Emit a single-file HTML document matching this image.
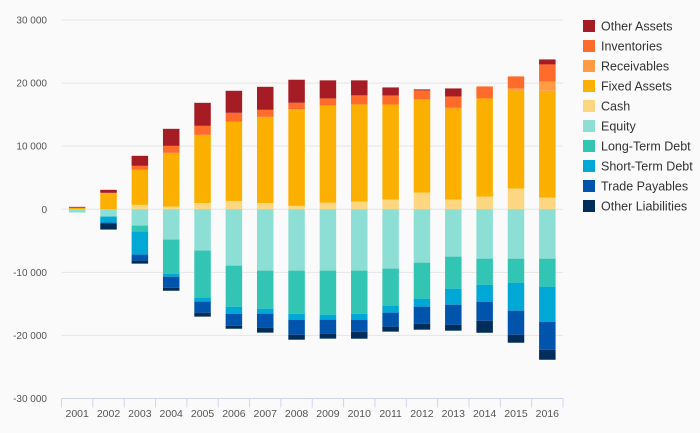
<!DOCTYPE html>
<html><head><meta charset="utf-8"><style>
html,body{margin:0;padding:0;background:#fafafa;}
svg{display:block;font-family:"Liberation Sans",sans-serif;}
</style></head><body>
<svg id="chart" width="700" height="433">
<rect width="700" height="433" fill="#fafafa"/>
<g id="grid"></g>
<g id="bars"></g>
<g id="xaxis"></g>
<g id="legend"></g>
</svg>
<script>
const years = ["2001","2002","2003","2004","2005","2006","2007","2008","2009","2010","2011","2012","2013","2014","2015","2016"];
const yTicks = [30000,20000,10000,0,-10000,-20000,-30000];
const yTickLabels = ["30 000","20 000","10 000","0","-10 000","-20 000","-30 000"];
const seriesNames = ["Other Assets","Inventories","Receivables","Fixed Assets","Cash","Equity","Long-Term Debt","Short-Term Debt","Trade Payables","Other Liabilities"];
const seriesColors = ["#a51c24","#ff6b2b","#ff9a45","#fbb000","#fdd682","#8ddfd6","#33c5b3","#00a8d6","#0054ac","#002d5a"];
// positive stack order (bottom-up): cash, fixed, receivables, inventories, other assets
const cash = [0,0,690,420,1000,1320,1000,530,1060,1220,1530,2650,1530,2010,3280,1850];
const fixedAssets = [250,2600,5560,8520,10790,12540,13650,15190,15400,15400,15080,14760,14440,15560,15560,16930];
const receivables = [0,0,0,0,0,0,0,160,0,0,0,0,160,0,320,1480];
const inventories = [0,0,630,1110,1430,1430,1110,1000,1110,1430,1430,1430,1750,1900,1900,2700];
const otherAssets = [130,480,1590,2700,3650,3490,3650,3650,2860,2380,1270,160,1270,0,0,790];
// negative stack order (top-down from zero)
const equity = [-530,-1160,-2590,-4810,-6550,-8940,-9730,-9730,-9730,-9730,-9410,-8460,-7510,-7830,-7830,-7830];
const longTermDebt = [0,0,-950,-5400,-7460,-6510,-6030,-6830,-6980,-6830,-5870,-5710,-5080,-4130,-3810,-4440];
const shortTermDebt = [0,-950,-3650,-480,-630,-1110,-790,-950,-790,-950,-1110,-1270,-2540,-2700,-4440,-5560];
const tradePayables = [0,-160,-950,-1750,-1750,-1900,-2220,-2380,-2220,-1900,-2220,-2700,-3170,-3020,-3810,-4440];
const otherLiabilities = [0,-950,-480,-480,-630,-480,-790,-790,-790,-1110,-790,-950,-950,-1900,-1270,-1590];

const NS="http://www.w3.org/2000/svg";
const plotL=61.5, plotR=563, yMin=-30000, yMax=30000, yTop=20, yBot=398.5;
const band=(plotR-plotL)/years.length, barW=16.5;
function y(v){return yBot-(v-yMin)/(yMax-yMin)*(yBot-yTop);}
function xC(i){return plotL+band*(i+0.5);}
function mk(tag,attrs,parent){const e=document.createElementNS(NS,tag);for(const k in attrs)e.setAttribute(k,attrs[k]);parent.appendChild(e);return e;}

const grid=document.getElementById('grid');
yTicks.forEach((t,i)=>{
  if(t!==yMin){const l=mk('line',{x1:plotL,x2:plotR,y1:y(t),y2:y(t),stroke:'#e6e6e6','stroke-width':1},grid);
  
  }
  const tx=mk('text',{x:47,y:y(t)+3.5,'text-anchor':'end','font-size':10,fill:'#555'},grid);
  tx.textContent=yTickLabels[i];
  
  
});

const pos=[cash,fixedAssets,receivables,inventories,otherAssets];
const posIdx=[4,3,2,1,0];
const neg=[equity,longTermDebt,shortTermDebt,tradePayables,otherLiabilities];
const negIdx=[5,6,7,8,9];
const bars=document.getElementById('bars');
years.forEach((yr,i)=>{
  let acc=0;
  pos.forEach((s,k)=>{const v=s[i];if(!v)return;
    const r=mk('rect',{x:xC(i)-barW/2,y:y(acc+v),width:barW,height:y(acc)-y(acc+v),fill:seriesColors[posIdx[k]]},bars);
    
    
    acc+=v;});
  acc=0;
  neg.forEach((s,k)=>{const v=s[i];if(!v)return;
    const r=mk('rect',{x:xC(i)-barW/2,y:y(acc),width:barW,height:y(acc+v)-y(acc),fill:seriesColors[negIdx[k]]},bars);
    
    
    acc+=v;});
});

const xa=document.getElementById('xaxis');
const al=mk('line',{x1:plotL,x2:plotR,y1:yBot,y2:yBot,stroke:'#ccd6eb','stroke-width':1},xa);


for(let i=0;i<=years.length;i++){
  const t=mk('line',{x1:plotL+band*i,x2:plotL+band*i,y1:yBot,y2:yBot+9,stroke:'#ccd6eb','stroke-width':1},xa);
  
  
}
years.forEach((yr,i)=>{
  const t=mk('text',{x:xC(i),y:417,'text-anchor':'middle','font-size':10.5,fill:'#555'},xa);
  t.textContent=yr;
  
  
});

const lg=document.getElementById('legend');
seriesNames.forEach((n,i)=>{
  const g=mk('g',{},lg);
  
  
  mk('rect',{x:583,y:20+i*20,width:12,height:12,fill:seriesColors[i]},g);
  const t=mk('text',{x:601,y:30.5+i*20,'font-size':12.5,fill:'#333'},g);
  t.textContent=n;
});
</script>
</body></html>
